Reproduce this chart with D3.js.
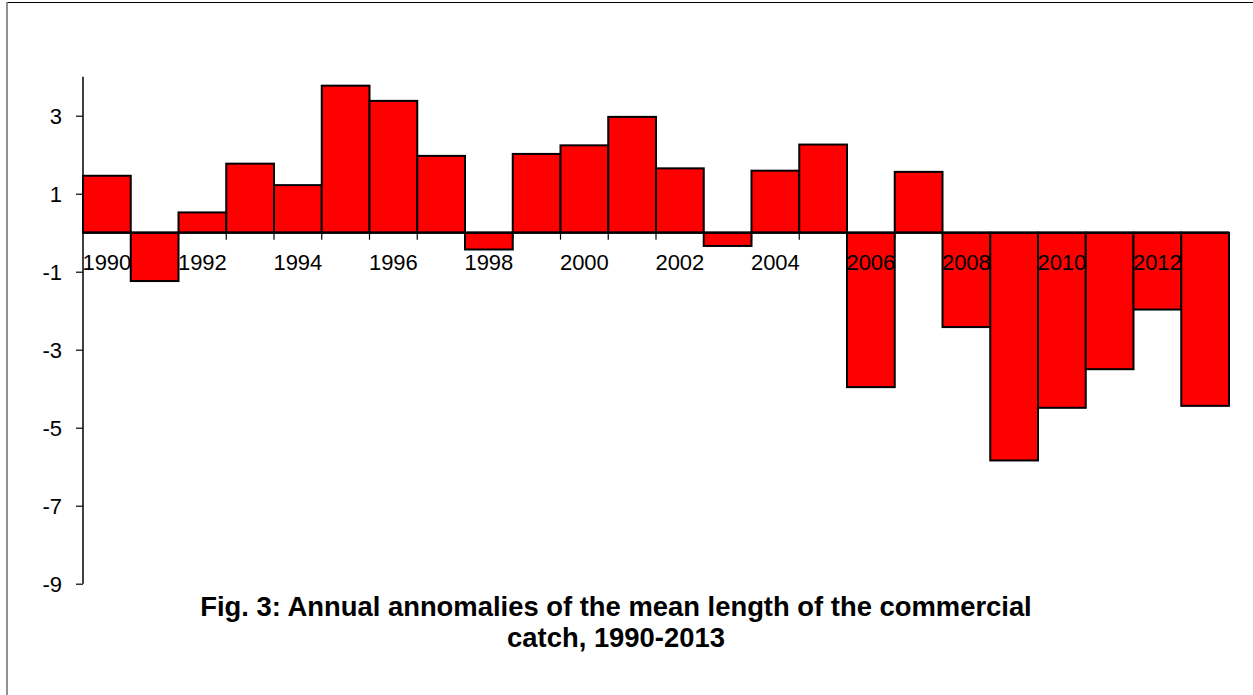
<!DOCTYPE html>
<html>
<head>
<meta charset="utf-8">
<script src="https://cdn.jsdelivr.net/npm/d3@7"></script>
<style>
  html, body { margin: 0; padding: 0; background: #fff; }
  svg { display: block; }
  text { font-family: "Liberation Sans", Arial, sans-serif; fill: #000; }
</style>
</head>
<body>
<svg id="chart" width="1253" height="695"></svg>
<script>
const years = [1990,1991,1992,1993,1994,1995,1996,1997,1998,1999,2000,2001,2002,2003,2004,2005,2006,2007,2008,2009,2010,2011,2012,2013];
const anomalies = [1.46,-1.24,0.52,1.77,1.22,3.77,3.38,1.97,-0.43,2.02,2.24,2.97,1.65,-0.34,1.59,2.26,-3.96,1.56,-2.42,-5.84,-4.49,-3.50,-1.97,-4.44];
const yTicks = [3,1,-1,-3,-5,-7,-9];
const xLabelYears = [1990,1992,1994,1996,1998,2000,2002,2004,2006,2008,2010,2012];
const titleLines = ["Fig. 3: Annual annomalies of the mean length of the commercial", "catch, 1990-2013"];

const svg = d3.select("#chart");

// page frame (top and left edges)
svg.append("line").attr("x1", 7).attr("x2", 1253).attr("y1", 2.5).attr("y2", 2.5)
  .attr("stroke", "#000").attr("stroke-width", 1.2);
svg.append("line").attr("x1", 7).attr("x2", 7).attr("y1", 2).attr("y2", 695)
  .attr("stroke", "#777").attr("stroke-width", 1.6);

const x = d3.scaleBand().domain(years).range([83, 1229]).paddingInner(0).paddingOuter(0);
const y = d3.scaleLinear().domain([-9, 4]).range([583.7, 76.7]);

// y axis
const yAxis = svg.append("g").attr("transform", "translate(83,0)")
  .call(d3.axisLeft(y).tickValues(yTicks).tickSize(7).tickPadding(14).tickFormat(d => String(d)));
yAxis.select(".domain").attr("stroke", "#000").attr("stroke-width", 1.5).attr("d", `M0,${y(4)}V${y(-9)}`);
yAxis.selectAll(".tick line").attr("stroke", "#000").attr("stroke-width", 1.2);
yAxis.selectAll(".tick text").attr("font-size", 22).attr("font-family", "Liberation Sans, Arial, sans-serif")
  .attr("dy", "0.36em").style("fill", "#000");

// x ticks at bar boundaries (below zero line)
const boundaries = years.slice(1).map(d => x(d));
svg.append("g").selectAll("line").data(boundaries).join("line")
  .attr("x1", d => d).attr("x2", d => d)
  .attr("y1", y(0)).attr("y2", y(0) + 7)
  .attr("stroke", "#000").attr("stroke-width", 1.2);

// bars
svg.append("g").selectAll("rect").data(years).join("rect")
  .attr("x", (d) => x(d))
  .attr("width", x.bandwidth())
  .attr("y", (d, i) => Math.min(y(0), y(anomalies[i])))
  .attr("height", (d, i) => Math.abs(y(anomalies[i]) - y(0)))
  .attr("fill", "#ff0000")
  .attr("stroke", "#000")
  .attr("stroke-width", 2);

// zero line
svg.append("line").attr("x1", 83).attr("x2", 1229).attr("y1", y(0)).attr("y2", y(0))
  .attr("stroke", "#000").attr("stroke-width", 2.2);

// x labels (drawn over bars)
svg.append("g").selectAll("text").data(xLabelYears).join("text")
  .attr("x", d => x(d) + x.bandwidth() / 2)
  .attr("y", y(0) + 37)
  .attr("text-anchor", "middle")
  .attr("font-size", 22)
  .text(d => d);

// title
svg.append("g").selectAll("text").data(titleLines).join("text")
  .attr("x", 616)
  .attr("y", (d, i) => 616 + i * 31)
  .attr("text-anchor", "middle")
  .attr("font-size", 27.4)
  .attr("font-weight", "bold")
  .text(d => d);
</script>
</body>
</html>
